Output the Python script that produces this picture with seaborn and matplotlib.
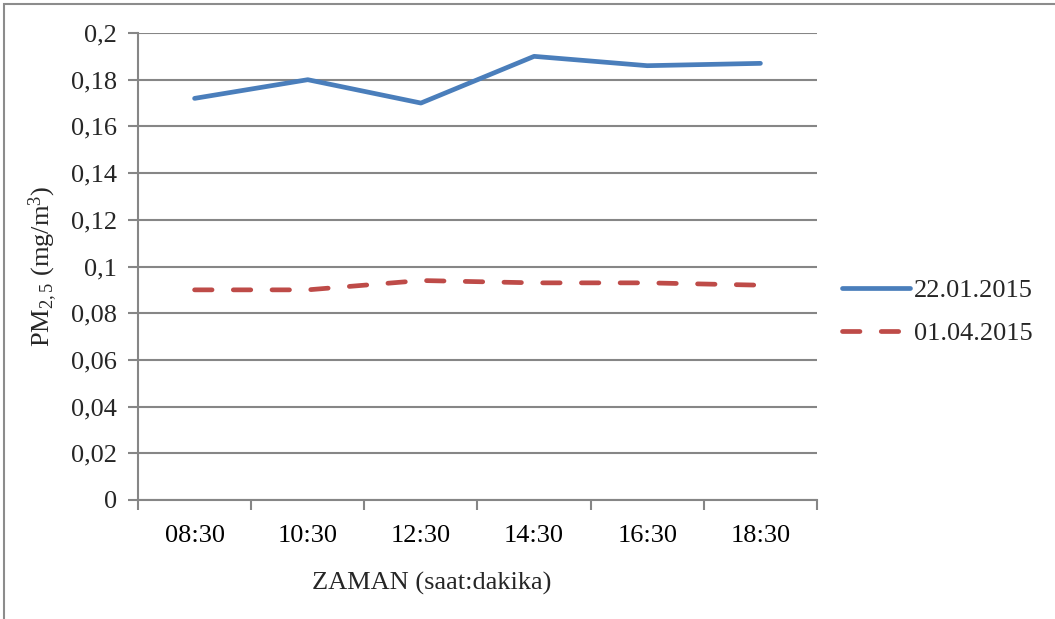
import matplotlib
matplotlib.use("Agg")
import matplotlib.pyplot as plt
import seaborn as sns
import pandas as pd
from matplotlib.patches import Rectangle
from matplotlib.lines import Line2D
from matplotlib.ticker import FixedLocator, FuncFormatter

times = ["08:30", "10:30", "12:30", "14:30", "16:30", "18:30"]
series_names = ["22.01.2015", "01.04.2015"]
pm_jan = [0.172, 0.180, 0.170, 0.190, 0.186, 0.187]
pm_apr = [0.090, 0.090, 0.094, 0.093, 0.093, 0.092]
y_ticks = [0, 0.02, 0.04, 0.06, 0.08, 0.1, 0.12, 0.14, 0.16, 0.18, 0.2]

df = pd.DataFrame({
    "time": times * 2,
    "pm": pm_jan + pm_apr,
    "series": [series_names[0]] * len(times) + [series_names[1]] * len(times),
})

sns.set_style("white")
plt.rcParams["font.family"] = ["Liberation Serif", "DejaVu Serif"]
plt.rcParams["mathtext.fontset"] = "custom"
plt.rcParams["mathtext.rm"] = "Liberation Serif"
plt.rcParams["mathtext.it"] = "Liberation Serif:italic"

FS = 19
fig = plt.figure(figsize=(10.55, 6.19), dpi=100)
ax = fig.add_axes([138/1055, 1-500/619, (817-138)/1055, (500-33)/619])

blue = "#4A7EBB"
red = "#BE4B48"
grid_c = "#868686"
dash = (3.7, 4.5)
lw = 3.4

sns.lineplot(data=df, x="time", y="pm", hue="series", style="series",
             palette=[blue, red], dashes=[(None, None), dash],
             linewidth=lw, ax=ax, legend=False, sort=False)
for ln in ax.lines:
    ln.set_solid_capstyle("round")
    ln.set_dash_capstyle("round")
    ln.set_solid_joinstyle("round")

ax.set_xlim(-0.5, len(times) - 0.5)
ax.set_ylim(0, 0.2)
ax.set_yticks(y_ticks)
ax.yaxis.set_major_formatter(FuncFormatter(lambda v, p: ("%g" % round(v, 2)).replace(".", ",")))
ax.set_xticks(range(len(times)))
ax.set_xticklabels(times)
ax.xaxis.set_minor_locator(FixedLocator([i - 0.5 for i in range(len(times) + 1)]))
ax.tick_params(axis="x", which="major", length=0, pad=18, labelsize=FS, colors="black")
ax.tick_params(axis="x", which="minor", length=7, width=1.5, color=grid_c, direction="out", bottom=True)
ax.tick_params(axis="y", which="major", length=7, width=1.5, color=grid_c, direction="out", left=True,
               labelsize=FS, pad=8)

ax.grid(axis="y", color=grid_c, linewidth=1.5)
ax.set_axisbelow(True)
for s in ["top", "right"]:
    ax.spines[s].set_visible(False)
for s in ["left", "bottom"]:
    ax.spines[s].set_color(grid_c)
    ax.spines[s].set_linewidth(1.5)

ax.set_xlabel("ZAMAN (saat:dakika)", fontsize=FS)
ax.xaxis.set_label_coords((432 - 138) / 679, -(583 - 500) / 467)
ax.xaxis.label.set_va("center")
ax.set_ylabel(r"PM$_{\mathrm{2,5}}$ (mg/m$^{\mathrm{3}}$)", fontsize=FS)
ax.yaxis.set_label_coords(-(138 - 43) / 679, (500 - 266) / 467)
ax.yaxis.label.set_va("center")

handles = [Line2D([], [], color=blue, lw=lw, solid_capstyle="round"),
           Line2D([], [], color=red, lw=lw, dashes=dash, dash_capstyle="round")]
fig.legend(handles, series_names, loc="center left", bbox_to_anchor=(818/1055, 1-312/619),
           frameon=False, fontsize=FS, handlelength=2.6, handletextpad=0.15, labelspacing=0.75)

fig.patches.append(Rectangle((4/1055, -0.1), 1.2, 1 - 4/619 + 0.1, transform=fig.transFigure,
                             fill=False, edgecolor="#8C8C8C", linewidth=1.5))

fig.savefig("out.png", dpi=100)
